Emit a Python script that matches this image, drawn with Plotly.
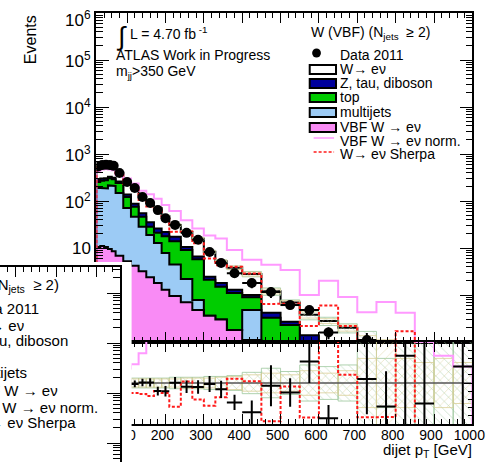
import plotly.graph_objects as go

W, H = 499, 462
FONT = "Liberation Sans, Arial, Helvetica, sans-serif"

# ---- binning and yields (dijet pT) ----
edges = [20, 30, 40, 50, 60, 70, 90, 110, 130, 150, 170, 190, 210, 240, 270,
         300, 330, 360, 400, 450, 500, 550, 600, 650, 700, 750, 800, 850, 900, 950, 1000]

data_2011 = [540, 580, 590, 580, 560, 394, 254, 189, 122, 91, 64, 43, 31, 21, 15,
             8.2, 4.8, 2.9, 1.8, 1.16, 0.61, 0.48, 0.16, 0, 0.11, 0.05, 0.06, 0.03, 0, 0.03]
data_err = [22, 23, 24, 23, 22, 16, 11, 8, 5.5, 4.5, 3.8, 3.0, 2.2, 1.7, 1.3,
            0.8, 0.55, 0.35, 0.4, 0.3, 0.12, 0.1, 0.045, 0, 0.045, 0.03, 0.04, 0.03, 0, 0.02]

wenu = [262, 275, 280, 246, 240, 141, 118, 104, 66, 55, 45, 26, 13.6, 11.5, 9.2,
        5.85, 3.4, 2.5, 1.8, 0.78, 0.42, 0.24, 0.19, 0.14, 0.063, 0.041, 0.023, 0.022, 0.016, 0.014]
zdib = [30, 30, 28, 25, 22, 18, 15, 12, 9, 7, 5, 4, 3.5, 1.4, 0.8,
        0.35, 0.3, 0.2, 0.1, 0.09, 0.04, 0.04, 0.04, 0.03, 0.02, 0.012, 0.01, 0.008, 0.006, 0.005]
top = [65, 81, 91, 89, 80, 93, 51, 29, 18, 9.5, 8.2, 10.0, 9.4, 6.9, 5.0,
       1.74, 1.2, 0.92, 0.42, 0.26, 0.18, 0.065, 0.025, 0.012, 0.01, 0.008, 0.006, 0.005, 0.004, 0.003]
multijet = [178, 178, 175, 205, 200, 141, 66, 42, 25, 16.5, 11.0, 6.5, 3.5, 1.5, 0.3,
            0, 0, 0, 0.37, 0, 0, 0, 0, 0, 0, 0, 0, 0, 0, 0]
vbf_wenu = [10.5, 11.0, 10.5, 9.5, 8.5, 6.8, 5.2, 4.2, 3.2, 2.4, 1.8, 1.3, 0.95, 0.70, 0.48,
            0.36, 0.30, 0.18, 0.11, 0.07, 0.05, 0.035, 0.025, 0.018, 0.012, 0.009, 0.006, 0.005, 0.004, 0.003]
vbf_norm = [430, 470, 480, 470, 450, 357, 300, 235, 165, 140, 112, 82, 61, 39, 26,
            18.5, 16, 9.1, 5.6, 4.4, 3.4, 1.0, 2.0, 0.91, 0.43, 0.71, 0.42, 0.06, 0.04, 0.03]
wenu_sherpa = [518, 546, 544, 529, 495, 360, 230, 168, 105, 76, 64, 42, 22, 22.4, 12.6,
               6.0, 4.3, 4.0, 2.86, 0.64, 0.66, 0.22, 0.6, 0.22, 0.061, 0.041, 0.17, 0, 0, 0]

# relative systematic uncertainties (two hatched bands)
syst_a = [0.06, 0.06, 0.06, 0.06, 0.06, 0.06, 0.06, 0.06, 0.06, 0.06, 0.06, 0.06, 0.07, 0.07, 0.07,
          0.08, 0.08, 0.09, 0.13, 0.18, 0.14, 0.22, 0.20, 0.22, 0.6, 0.3, 0.6, 0.6, 0.6, 0.6]
syst_b = [0.05, 0.05, 0.05, 0.05, 0.05, 0.05, 0.05, 0.05, 0.05, 0.05, 0.05, 0.05, 0.05, 0.06, 0.06,
          0.06, 0.07, 0.08, 0.10, 0.12, 0.10, 0.15, 0.12, 0.15, 0.3, 0.6, 0.3, 0.25, 0.3, 0.25]

x_tick_vals = [100, 200, 300, 400, 500, 600, 700, 800, 900, 1000]
y_label_exps = [6, 5, 4, 3, 2, 1]   # decade labels printed on the event axis

# ---- colours ----
C_VBF = "#f98bf5"
C_MJ = "#9ccbf5"
C_TOP = "#00cc00"
C_Z = "#00009c"
C_NORM = "#ff99ff"
C_SHERPA = "#ff1a1a"
C_HATCH_A = "#9cc79c"
C_HATCH_B = "#d9cf98"

nb = len(edges) - 1
centers = [(edges[i] + edges[i + 1]) / 2 for i in range(nb)]
halfw = [(edges[i + 1] - edges[i]) / 2 for i in range(nb)]

# cumulative stack levels, bottom to top
levels = []
run = [0.0] * nb
for comp in [vbf_wenu, multijet, top, zdib, wenu]:
    run = [a + b for a, b in zip(run, comp)]
    levels.append(run)
total = levels[-1]


def step_path(vals, floor):
    xs, ys = [edges[0]], [floor]
    for i, v in enumerate(vals):
        v = v if v > floor else floor
        xs += [edges[i], edges[i + 1]]
        ys += [v, v]
    xs.append(edges[-1])
    ys.append(floor)
    return xs, ys


def box_path(lo, hi):
    xs, ys = [], []
    for i in range(nb):
        xs += [edges[i], edges[i + 1], edges[i + 1], edges[i], edges[i], None]
        ys += [lo[i], lo[i], hi[i], hi[i], lo[i], None]
    return xs, ys


def px(x):
    return x / W


def py(y):
    return 1 - y / H


# upper pad geometry (pixels) and log range
UP_TOP, UP_BOT = 13, 342
LOG_LO, LOG_HI = -1.0, 6.0

fig = go.Figure()

# ---------------- upper pad: stacked histograms ----------------
LOGFLOOR = 1e-4
for lev, col in zip(levels[::-1], ["white", C_Z, C_TOP, C_MJ, C_VBF]):
    xs, ys = step_path(lev, LOGFLOOR)
    fig.add_trace(go.Scatter(x=xs, y=ys, mode="lines", fill="toself", fillcolor=col,
                             line=dict(color="black", width=2), xaxis="x", yaxis="y",
                             hoverinfo="skip"))

# systematic bands around the total prediction
for err, col, shp in [(syst_a, C_HATCH_A, "\\"), (syst_b, C_HATCH_B, "/")]:
    lo = [t * (1 - e) for t, e in zip(total, err)]
    hi = [t * (1 + e) for t, e in zip(total, err)]
    xs, ys = box_path(lo, hi)
    fig.add_trace(go.Scatter(x=xs, y=ys, mode="lines", fill="toself",
                             fillcolor="rgba(0,0,0,0)",
                             fillpattern=dict(shape=shp, fgcolor=col, bgcolor="rgba(0,0,0,0)",
                                              size=6, solidity=0.15, fillmode="overlay"),
                             line=dict(color=col, width=0.8), xaxis="x", yaxis="y",
                             hoverinfo="skip"))

xs, ys = step_path(vbf_norm, LOGFLOOR)
fig.add_trace(go.Scatter(x=xs, y=ys, mode="lines", line=dict(color=C_NORM, width=2),
                         xaxis="x", yaxis="y"))
xs, ys = step_path(wenu_sherpa, LOGFLOOR)
fig.add_trace(go.Scatter(x=xs, y=ys, mode="lines",
                         line=dict(color=C_SHERPA, width=2, dash="3px,2px"),
                         xaxis="x", yaxis="y"))

idx = [i for i in range(nb) if data_2011[i] > 0]
fig.add_trace(go.Scatter(
    x=[centers[i] for i in idx], y=[data_2011[i] for i in idx], mode="markers",
    marker=dict(color="black", size=10),
    error_y=dict(type="data", array=[data_err[i] for i in idx], color="black",
                 thickness=2, width=0),
    error_x=dict(type="data", array=[halfw[i] for i in idx], color="black",
                 thickness=2, width=0),
    xaxis="x", yaxis="y"))

# ---------------- lower pad: ratios ----------------
for err, col, shp in [(syst_a, C_HATCH_A, "\\"), (syst_b, C_HATCH_B, "/")]:
    lo = [1 - e for e in err]
    hi = [1 + e for e in err]
    xs, ys = box_path(lo, hi)
    fig.add_trace(go.Scatter(x=xs, y=ys, mode="lines", fill="toself",
                             fillcolor="rgba(0,0,0,0)",
                             fillpattern=dict(shape=shp, fgcolor=col, bgcolor="rgba(0,0,0,0)",
                                              size=6, solidity=0.15, fillmode="overlay"),
                             line=dict(color=col, width=0.8), xaxis="x2", yaxis="y2",
                             hoverinfo="skip"))

fig.add_trace(go.Scatter(x=[edges[0], edges[-1]], y=[1, 1], mode="lines",
                         line=dict(color="#555555", width=1.5), xaxis="x2", yaxis="y2"))

norm_ratio = [n / t for n, t in zip(vbf_norm, total)]
xs, ys = step_path(norm_ratio, -1)
fig.add_trace(go.Scatter(x=xs, y=ys, mode="lines", line=dict(color=C_NORM, width=2),
                         xaxis="x2", yaxis="y2"))
sherpa_ratio = [s / t for s, t in zip(wenu_sherpa, total)]
xs, ys = step_path(sherpa_ratio, -1)
fig.add_trace(go.Scatter(x=xs, y=ys, mode="lines",
                         line=dict(color=C_SHERPA, width=2, dash="3px,2px"),
                         xaxis="x2", yaxis="y2"))

fig.add_trace(go.Scatter(
    x=[centers[i] for i in idx], y=[data_2011[i] / total[i] for i in idx], mode="markers",
    marker=dict(color="black", size=1),
    error_y=dict(type="data", array=[data_err[i] / total[i] for i in idx], color="black",
                 thickness=2, width=0),
    error_x=dict(type="data", array=[halfw[i] for i in idx], color="black",
                 thickness=2, width=0),
    xaxis="x2", yaxis="y2"))

# ---------------- inset panel (white card with its own frame) ----------------
fig.add_trace(go.Scatter(x=[0, 1, 1, 0], y=[0, 0, 1, 1], mode="lines", fill="toself",
                         fillcolor="white", line=dict(width=0), xaxis="x3", yaxis="y3",
                         hoverinfo="skip"))
fig.add_trace(go.Scatter(x=[], y=[], xaxis="x4", yaxis="y4"))

# ---------------- axes ----------------
XD = [px(99), px(485)]
common_x = dict(range=[edges[0], edges[-1]], showline=True, linecolor="black", linewidth=1.5,
                mirror="ticks", ticks="inside", ticklen=10, tickcolor="black", tickwidth=1,
                tick0=0, dtick=100, showgrid=False, zeroline=False,
                minor=dict(ticks="inside", ticklen=5, dtick=20, tick0=0, tickcolor="black",
                           showgrid=False))

fig.update_layout(
    width=W, height=H, margin=dict(l=0, r=0, t=0, b=0),
    paper_bgcolor="white", plot_bgcolor="white", showlegend=False,
    font=dict(family=FONT, color="black"),
    xaxis=dict(domain=XD, anchor="y", showticklabels=False, **common_x),
    yaxis=dict(domain=[py(UP_BOT), py(UP_TOP)], anchor="x", type="log",
               range=[LOG_LO, LOG_HI],
               showline=True, linecolor="black", linewidth=1.5, mirror="ticks",
               ticks="inside", ticklen=13, tickcolor="black", dtick=1, tick0=0,
               showticklabels=False, showgrid=False, zeroline=False,
               minor=dict(ticks="inside", ticklen=7, dtick="D1", tickcolor="black",
                          showgrid=False)),
    xaxis2=dict(domain=XD, anchor="y2", showticklabels=True, tickvals=x_tick_vals,
                tickfont=dict(size=14, family=FONT), ticklabelshift=-3,
                ticklabelstandoff=-3, **common_x),
    yaxis2=dict(domain=[py(424), py(342)], anchor="x2", range=[0.5, 1.5],
                showline=True, linecolor="black", linewidth=1.5, mirror="ticks",
                ticks="inside", ticklen=9, tickcolor="black", dtick=0.5, tick0=0,
                showticklabels=False, showgrid=False, zeroline=False,
                minor=dict(ticks="inside", ticklen=5, dtick=0.1, tick0=0, tickcolor="black",
                           showgrid=False)),
    xaxis3=dict(domain=[0, px(135)], anchor="y3", range=[0, 1], visible=False),
    yaxis3=dict(domain=[0, py(262)], anchor="x3", range=[0, 1], visible=False),
    xaxis4=dict(domain=[0, px(123)], anchor="y4", side="top", range=[561.5, 857.5],
                showline=True, linecolor="black", linewidth=1.5, ticks="inside",
                ticklen=10, tickcolor="black", dtick=100, tick0=0, showticklabels=False,
                showgrid=False, zeroline=False,
                minor=dict(ticks="inside", ticklen=5, dtick=20, tick0=0, tickcolor="black",
                           showgrid=False)),
    yaxis4=dict(domain=[0, py(267)], anchor="x4", side="right", type="log",
                range=[-2.38, 1.52], showline=True, linecolor="black", linewidth=1.5,
                ticks="inside", ticklen=13, tickcolor="black", dtick=1,
                showticklabels=False, showgrid=False, zeroline=False,
                minor=dict(ticks="inside", ticklen=7, dtick="D1", tickcolor="black",
                           showgrid=False)),
)

ann = []


def text(x, y, s, size=14, xanchor="left", **kw):
    ann.append(dict(x=px(x), y=py(y), xref="paper", yref="paper", text=s, showarrow=False,
                    xanchor=xanchor, yanchor="middle", font=dict(size=size, family=FONT,
                                                                 color="black"), **kw))


# decade labels of the event axis (the top one is nudged down to stay on the page)
for k in y_label_exps:
    y_tick = UP_TOP + (LOG_HI - k) * (UP_BOT - UP_TOP) / (LOG_HI - LOG_LO)
    label = "10" if k == 1 else "10<sup>%d</sup>" % k
    text(96, max(y_tick, 19), label, size=17, xanchor="right")

text(32, 40, "Events", size=16, xanchor="center", textangle=-90)
text(117, 36, "\u222b", size=26)
text(131, 33, "L = 4.70 fb<sup> -1</sup>")
text(117, 55, "ATLAS Work in Progress")
text(117, 72, "m<sub>jj</sub>&gt;350 GeV")
text(487, 450, "dijet p<sub>T</sub> [GeV]", size=15, xanchor="right")

# legend (upper right)
legend_rows = [("Data 2011", 55), ("W\u2192 e\u03bd", 69), ("Z, tau, diboson", 83),
               ("top", 97), ("multijets", 112), ("VBF W \u2192 e\u03bd", 127),
               ("VBF W \u2192 e\u03bd norm.", 141), ("W\u2192 e\u03bd Sherpa", 154)]
text(317, 33, "W (VBF) (N<sub>jets</sub>  \u2265 2)")
for s, y in legend_rows:
    text(347, y, s)

# the same legend repeated on the inset card, running off its left edge
inset_rows = [("W (VBF) (N<sub>jets</sub>  \u2265 2)", 63, 285), ("Data 2011", 42, 308),
              ("W\u2192 e\u03bd", 27, 325), ("Z, tau, diboson", 72, 340),
              ("multijets", 30, 372), ("VBF W \u2192 e\u03bd", 62, 390),
              ("VBF W \u2192 e\u03bd norm.", 103, 407), ("W\u2192 e\u03bd Sherpa", 80, 422)]
for s, xr, y in inset_rows:
    text(xr, y, s, size=15, xanchor="right")

fig.update_layout(annotations=ann)

# legend glyphs
shapes = [dict(type="circle", xref="paper", yref="paper", x0=px(320.5), x1=px(329.5),
               y0=py(57.5), y1=py(48.5), fillcolor="black", line=dict(width=0))]
for col, (y0, y1) in zip(["white", C_Z, C_TOP, C_MJ, C_VBF],
                         [(65, 74), (79, 88), (93, 102), (108, 117), (123, 132)]):
    shapes.append(dict(type="rect", xref="paper", yref="paper", x0=px(318), x1=px(345),
                       y0=py(y1), y1=py(y0), fillcolor=col, line=dict(color="black", width=2)))
shapes.append(dict(type="line", xref="paper", yref="paper", x0=px(322), x1=px(343),
                   y0=py(138), y1=py(138), line=dict(color=C_NORM, width=1.5)))
shapes.append(dict(type="line", xref="paper", yref="paper", x0=px(322), x1=px(343),
                   y0=py(152), y1=py(152), line=dict(color=C_SHERPA, width=1.5, dash="3px,2px")))
fig.update_layout(shapes=shapes)

fig.write_html("out.html")
